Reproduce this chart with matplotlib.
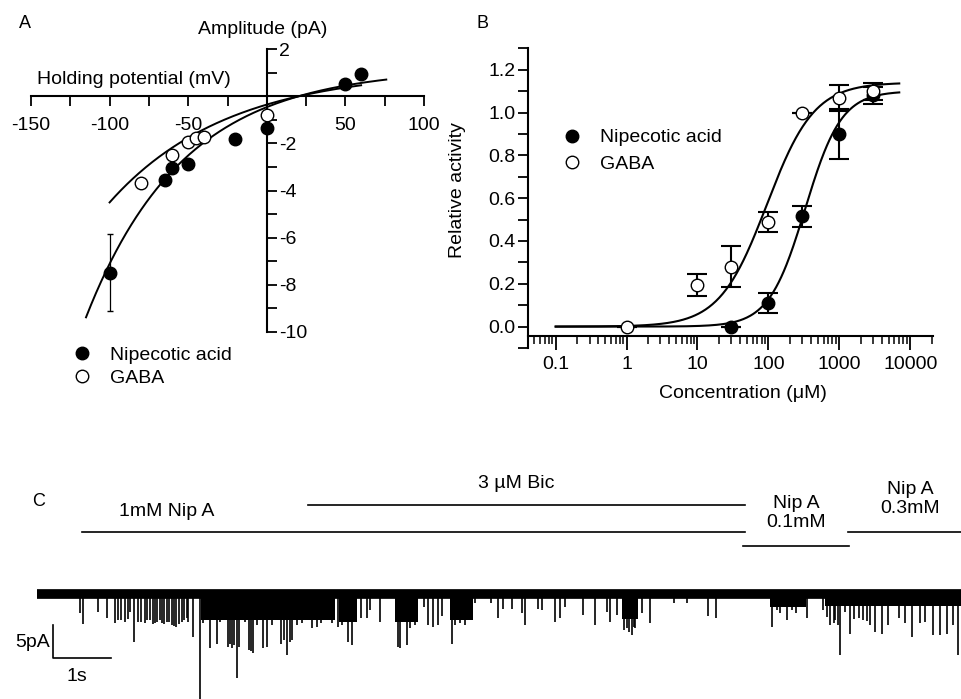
import matplotlib
matplotlib.use('Agg')
import matplotlib.pyplot as plt
import numpy as np
from matplotlib.ticker import FixedLocator, NullFormatter, LogLocator, FixedFormatter

plt.rcParams['font.family'] = ['Liberation Sans', 'DejaVu Sans']
plt.rcParams['axes.unicode_minus'] = False

# ---------------- Panel A data ----------------
nip_v = [-100, -65, -60, -50, -20, 0, 50, 60]
nip_i = [-7.5, -3.56, -3.05, -2.86, -1.81, -1.34, 0.54, 0.94]
nip_i_err = [1.64, 0, 0, 0, 0, 0, 0, 0]
gaba_v = [-80, -60, -50, -45, -40, 0]
gaba_i = [-3.69, -2.49, -1.96, -1.77, -1.74, -0.78]
# exponential fit parameters: I = A*(1-exp(-(V-V0)/k))
nip_fit = dict(A=1.2, V0=20.0, k=62.0, vmin=-115, vmax=76)
gaba_fit = dict(A=1.14, V0=20.0, k=75.0, vmin=-100, vmax=60)
a_xticks = [-150, -100, -50, 50, 100]
a_yticks = [-10, -8, -6, -4, -2, 2]

# ---------------- Panel B data ----------------
b_nip_c = [30, 100, 300, 1000, 3000]
b_nip_y = [0.0, 0.11, 0.515, 0.90, 1.08]
b_nip_err = [0.0, 0.045, 0.05, 0.115, 0.04]
b_gaba_c = [1, 10, 30, 100, 300, 1000, 3000]
b_gaba_y = [0.0, 0.195, 0.28, 0.49, 1.0, 1.068, 1.10]
b_gaba_err = [0.0, 0.05, 0.095, 0.047, 0.0, 0.06, 0.04]
# Hill fit parameters
b_nip_fit = dict(top=1.10, ec50=330.0, n=1.7)
b_gaba_fit = dict(top=1.14, ec50=95.0, n=1.3)
b_xticks = [0.1, 1, 10, 100, 1000, 10000]
b_xticklabels = ['0.1', '1', '10', '100', '1000', '10000']
b_yticks = [0.0, 0.2, 0.4, 0.6, 0.8, 1.0, 1.2]

# ---------------- Panel C data (time in s, current in pA) ----------------
event_t = [0.75, 0.80, 1.06, 1.21, 1.35, 1.41, 1.52, 1.61, 1.67, 1.75,
           1.87, 1.95, 2.04, 2.16, 2.24, 2.33, 2.41, 2.50, 2.59, 2.61,
           2.70, 2.82, 2.87, 2.99, 3.10, 3.16, 3.45, 3.59, 3.73, 3.79,
           3.91, 3.97, 4.05, 4.31, 4.48, 4.57, 4.74, 4.83, 4.91, 5.09,
           5.20, 5.26, 5.37, 5.43, 5.49, 5.60, 5.69, 5.75, 5.92, 6.23,
           6.26, 6.38, 6.44, 6.52, 6.67, 6.75, 6.84, 6.92, 6.98, 7.16,
           7.21, 7.30, 7.38, 7.47, 7.56, 7.84, 7.96, 8.04, 8.19, 8.36,
           8.42, 8.65, 8.71, 8.94, 9.02, 9.11, 9.42, 9.63, 9.83, 9.88,
           10.00, 10.17, 10.26, 10.32, 10.43, 10.57, 10.98, 11.21, 11.58, 11.72,
           12.67, 12.76, 12.82, 12.93, 13.02, 13.10, 13.28, 13.56, 13.68, 13.74,
           13.82, 13.85, 13.94, 14.02, 14.17, 14.25, 14.37, 14.45, 14.57, 14.68,
           14.86, 14.97, 15.09, 15.23, 15.32, 15.46, 15.57, 15.69, 15.80, 15.89,
           1.45, 1.57, 1.80, 1.91, 2.00, 2.08, 2.12, 2.20, 2.28, 2.37,
           2.45, 2.54, 3.30, 3.33, 3.37, 3.41, 3.48, 3.66, 3.70, 4.22,
           4.26, 4.36, 4.40, 10.12, 10.21, 10.30, 13.63, 13.77, 14.10, 14.31]
event_amp = [-2.9, -4.6, -2.7, -3.7, -4.4, -3.9, -4.2, -2.7, -7.2, -4.2,
             -4.4, -3.9, -4.4, -4.4, -4.2, -4.7, -5.0, -4.2, -3.7, -4.2,
             -6.5, -16.5, -4.4, -8.2, -7.5, -4.2, -12.8, -4.2, -9.0, -4.7,
             -8.2, -8.0, -4.7, -9.2, -4.7, -4.4, -5.2, -5.0, -4.4, -4.4,
             -5.0, -4.7, -7.2, -7.7, -3.9, -3.7, -3.7, -2.4, -4.2, -8.0,
             -8.2, -7.7, -5.2, -4.7, -1.9, -4.7, -5.0, -4.7, -3.4, -7.5,
             -4.7, -4.4, -4.7, -3.7, -1.4, -1.4, -3.7, -2.2, -2.2, -2.9,
             -4.7, -2.2, -2.4, -4.2, -3.7, -1.9, -3.2, -4.7, -2.7, -4.2,
             -3.2, -5.2, -6.2, -5.2, -2.9, -4.4, -1.4, -1.4, -3.4, -3.7,
             -5.0, -2.4, -2.9, -3.9, -2.4, -2.9, -3.7, -2.4, -4.7, -4.4,
             -4.7, -9.2, -2.7, -6.0, -3.7, -3.9, -4.7, -5.7, -6.0, -4.7,
             -3.7, -4.4, -6.5, -4.4, -4.2, -6.2, -6.2, -6.0, -4.7, -9.2,
             -4.0, -3.8, -4.3, -4.0, -4.5, -4.3, -4.0, -4.6, -4.3, -4.8,
             -4.5, -4.0, -8.0, -7.5, -8.2, -7.8, -8.0, -8.5, -8.7, -7.5,
             -7.0, -7.2, -7.0, -5.5, -5.8, -5.0, -3.5, -4.0, -3.8, -4.1]
burst_start = [2.84, 5.22, 6.18, 7.12, 10.09, 12.64, 13.59]
burst_end = [5.15, 5.52, 6.58, 7.52, 10.37, 13.27, 15.94]
burst_depth = [-4.0, -4.3, -4.3, -4.0, -3.8, -2.0, -1.8]
trace_start, trace_end = 0.0, 15.94
# drug application bars: (start s, end s, level)
app_labels = ['1mM Nip A', '3 µM Bic', 'Nip A\n0.1mM', 'Nip A\n0.3mM']
app_start = [0.78, 4.68, 12.18, 13.99]
app_end = [12.21, 12.21, 14.00, 15.94]
app_level = [9.35, 13.5, 7.27, 9.35]

W, H = 961, 699
fig = plt.figure(figsize=(W / 100, H / 100), dpi=100)


def fr(x0, y0, x1, y1):
    return [x0 / W, 1 - y1 / H, (x1 - x0) / W, (y1 - y0) / H]


FS = 14
LW = 1.5

# ================= Panel A =================
axA = fig.add_axes(fr(31, 49.3, 424, 331.7))
axA.set_xlim(-150, 100)
axA.set_ylim(-10, 2)
axA.patch.set_visible(False)
axA.spines['left'].set_visible(False)
axA.spines['top'].set_visible(False)
axA.spines['right'].set_position(('data', 0))
axA.spines['bottom'].set_position(('data', 0))
for s in ('right', 'bottom'):
    axA.spines[s].set_linewidth(LW)
axA.yaxis.tick_right()
axA.xaxis.set_major_locator(FixedLocator(a_xticks))
axA.xaxis.set_minor_locator(FixedLocator([-125, -75, -25, 25, 75]))
axA.yaxis.set_major_locator(FixedLocator(a_yticks))
axA.yaxis.set_minor_locator(FixedLocator(list(range(-10, 3))))
axA.set_xticklabels([str(v) for v in a_xticks])
axA.set_yticklabels([str(v) for v in a_yticks])
axA.tick_params(axis='x', which='both', direction='out', length=7, width=1.3,
                labelsize=FS, pad=8)
axA.tick_params(axis='y', which='both', direction='out', length=7, width=1.3,
                labelsize=FS, pad=2)

for fit in (nip_fit, gaba_fit):
    v = np.linspace(fit['vmin'], fit['vmax'], 300)
    axA.plot(v, fit['A'] * (1 - np.exp(-(v - fit['V0']) / fit['k'])),
             color='black', lw=1.4, zorder=2)
axA.errorbar(nip_v, nip_i, yerr=nip_i_err, fmt='none', ecolor='black',
             elinewidth=0.9, capsize=2, zorder=3)
hA1, = axA.plot(nip_v, nip_i, 'o', ms=9, mfc='black', mec='black',
                label='Nipecotic acid', zorder=4)
hA2, = axA.plot(gaba_v, gaba_i, 'o', ms=9, mfc='white', mec='black',
                mew=1.0, label='GABA', zorder=4)
fig.text(37 / W, 1 - 80 / H, 'Holding potential (mV)', fontsize=FS,
         ha='left', va='center')
fig.text(263 / W, 1 - 30 / H, 'Amplitude (pA)', fontsize=FS,
         ha='center', va='center')
fig.legend(handles=[hA1, hA2], loc='center left',
           bbox_to_anchor=((81.7 - 9.7) / W, 1 - 366.5 / H), frameon=False,
           fontsize=FS, handlelength=1.0, handletextpad=0.95,
           labelspacing=0.3, borderpad=0, borderaxespad=0)
fig.text(25 / W, 1 - 23 / H, 'A', fontsize=13, ha='center', va='center')

# ================= Panel B =================
axB = fig.add_axes(fr(528.3, 48.3, 932.7, 348))
axB.set_xscale('log')
axB.set_xlim(10 ** -1.386, 10 ** 4.317)
axB.set_ylim(-0.1, 1.3)
axB.patch.set_visible(False)
axB.spines['top'].set_visible(False)
axB.spines['right'].set_visible(False)
axB.spines['bottom'].set_position(('data', -0.045))
for s in ('left', 'bottom'):
    axB.spines[s].set_linewidth(LW)
axB.xaxis.set_major_locator(FixedLocator(b_xticks))
axB.xaxis.set_major_formatter(FixedFormatter(b_xticklabels))
axB.xaxis.set_minor_locator(LogLocator(base=10, subs=np.arange(2, 10), numticks=50))
axB.xaxis.set_minor_formatter(NullFormatter())
axB.yaxis.set_major_locator(FixedLocator(b_yticks))
axB.yaxis.set_minor_locator(FixedLocator(np.round(np.arange(-0.1, 1.31, 0.1), 2)))
axB.set_yticklabels(['%.1f' % v for v in b_yticks])
axB.tick_params(axis='x', which='major', direction='out', length=10, width=1.3,
                labelsize=FS, pad=4)
axB.tick_params(axis='x', which='minor', direction='out', length=6, width=1.1)
axB.tick_params(axis='y', which='both', direction='out', length=7, width=1.3,
                labelsize=FS, pad=2)

c = np.logspace(-1, np.log10(7000), 400)
for fit in (b_nip_fit, b_gaba_fit):
    axB.plot(c, fit['top'] * c ** fit['n'] / (c ** fit['n'] + fit['ec50'] ** fit['n']),
             color='black', lw=1.5, zorder=2)
axB.errorbar(b_nip_c, b_nip_y, yerr=b_nip_err, fmt='none', ecolor='black',
             elinewidth=1.5, capsize=7, capthick=1.5, zorder=3)
axB.errorbar(b_gaba_c, b_gaba_y, yerr=b_gaba_err, fmt='none', ecolor='black',
             elinewidth=1.5, capsize=7, capthick=1.5, zorder=3)
hB1, = axB.plot(b_nip_c, b_nip_y, 'o', ms=9, mfc='black', mec='black',
                label='Nipecotic acid', zorder=4)
hB2, = axB.plot(b_gaba_c, b_gaba_y, 'o', ms=9, mfc='white', mec='black',
                mew=1.0, label='GABA', zorder=5)
fig.legend(handles=[hB1, hB2], loc='center left',
           bbox_to_anchor=((571.7 - 9.7) / W, 1 - 150.7 / H), frameon=False,
           fontsize=FS, handlelength=1.0, handletextpad=0.95,
           labelspacing=0.45, borderpad=0, borderaxespad=0)
fig.text(743 / W, 1 - 393 / H, 'Concentration (μM)', fontsize=FS,
         ha='center', va='center')
fig.text(458 / W, 1 - 190 / H, 'Relative activity', fontsize=FS,
         ha='center', va='center', rotation=90)
fig.text(483 / W, 1 - 24 / H, 'B', fontsize=13, ha='center', va='center')

# ================= Panel C =================
axC = fig.add_axes(fr(0, 440, 961, 699))
axC.set_xlim(-36.7 / 58, (961 - 36.7) / 58)
axC.set_ylim(-(699 - 594) / 6.6, (594 - 440) / 6.6)
axC.axis('off')
axC.plot([trace_start, trace_end], [0, 0], color='black', lw=7,
         solid_capstyle='butt')
axC.vlines(event_t, 0, event_amp, color='black', lw=1.2)
for s, e, d in zip(burst_start, burst_end, burst_depth):
    axC.fill_between([s, e], 0, d, color='black', lw=0)
for s, e, lv in zip(app_start, app_end, app_level):
    axC.plot([s, e], [lv, lv], color='black', lw=1.2)

axC.text(2.24, 12.5, app_labels[0], fontsize=FS, ha='center', va='center')
axC.text(8.26, 16.8, app_labels[1], fontsize=FS, ha='center', va='center')
axC.text(13.1, 12.3, app_labels[2], fontsize=FS, ha='center', va='center',
         linespacing=1.2)
axC.text(15.06, 14.4, app_labels[3], fontsize=FS, ha='center', va='center',
         linespacing=1.2)
# scale bars: 5 pA, 1 s
sb_t, sb_y = 0.286, -9.74
axC.plot([sb_t, sb_t, sb_t + 1], [sb_y + 5, sb_y, sb_y], color='black', lw=1.2)
axC.text(sb_t - 0.06, sb_y + 2.35, '5pA', fontsize=FS, ha='right', va='center')
axC.text(sb_t + 0.4, sb_y - 2.8, '1s', fontsize=FS, ha='center', va='center')
fig.text(39 / W, 1 - 501.7 / H, 'C', fontsize=13, ha='center', va='center')

fig.savefig('out.png', dpi=100)
